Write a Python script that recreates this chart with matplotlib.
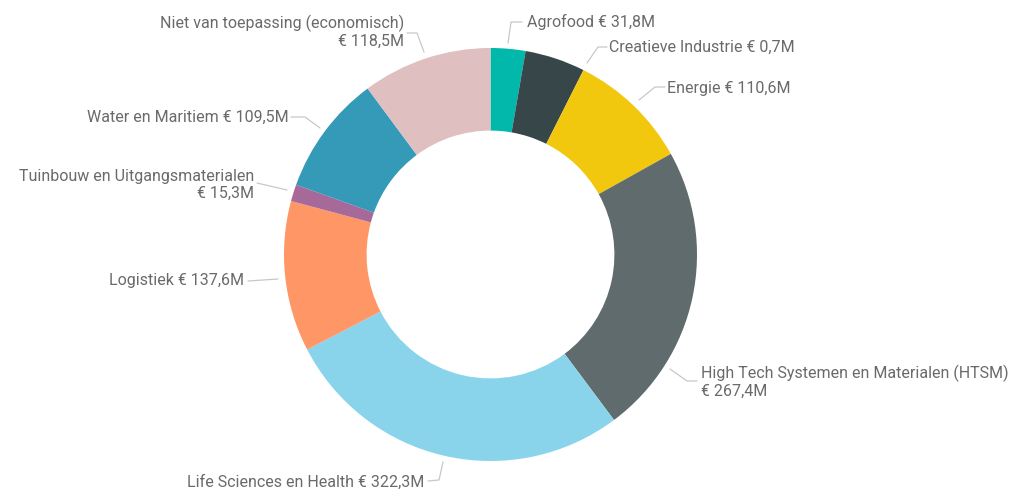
import matplotlib.pyplot as plt

# ── Data ───────────────────────────────────────────────────────
categories = [
    "Agrofood", "Creatieve Industrie", "Energie",
    "High Tech Systemen en Materialen (HTSM)", "Life Sciences en Health",
    "Logistiek", "Tuinbouw en Uitgangsmaterialen", "Water en Maritiem",
    "Niet van toepassing (economisch)",
]
# amounts shown in the labels (M euro)
label_amounts = [31.8, 0.7, 110.6, 267.4, 322.3, 137.6, 15.3, 109.5, 118.5]
# slice sizes as drawn (Creatieve slice is drawn much larger than its label)
slice_amounts = [31.8, 55.0, 110.6, 267.4, 322.3, 137.6, 15.3, 109.5, 118.5]
colors = ["#01B8AA", "#374649", "#F2C80F", "#5F6B6D", "#8AD4EB",
          "#FE9666", "#A66999", "#3599B8", "#DFBFBF"]

# ── Layout (pixels, y measured from top) ───────────────────────
W, H = 1013, 491
cx, cy, r = 490.5, 254.5, 206.5
hole = 0.40

# text anchor (x, y, ha, two_lines) and leader polyline per category
text_pos = [
    (527, 22, "left", False),
    (609, 47, "left", False),
    (667, 88, "left", False),
    (701, 382, "left", True),
    (424, 482, "right", False),
    (244, 281, "right", False),
    (254, 185, "right", True),
    (289, 117, "right", False),
    (404, 32, "right", True),
]
leaders = [
    [(508, 43), (511, 22), (522, 22)],
    [(587, 63), (598, 47), (607, 47)],
    [(639, 100), (655, 87), (665, 87)],
    [(670, 369), (687, 381), (697, 381)],
    [(443, 462), (439, 480), (428, 481)],
    [(278, 279), (248, 281)],
    [(287, 190), (257, 183)],
    [(320, 128), (305, 117), (291, 117)],
    [(424, 52), (417, 33), (407, 33)],
]


def fmt(v):
    return f"€ {v:.1f}M".replace(".", ",")


fig = plt.figure(figsize=(W / 100, H / 100), dpi=100)
ax = fig.add_axes([0, 0, 1, 1])

ax.pie(slice_amounts, colors=colors, startangle=90, counterclock=False,
       center=(cx, H - cy), radius=r,
       wedgeprops=dict(width=r * hole, linewidth=0))

font = ["Roboto", "DejaVu Sans"]
for cat, amt, (tx, ty, ha, two), pts in zip(categories, label_amounts,
                                             text_pos, leaders):
    xs = [p[0] for p in pts]
    ys = [H - p[1] for p in pts]
    ax.plot(xs, ys, color="#C8C8C8", lw=0.9, solid_capstyle="round")
    if two:
        txt = f"{cat}\n{fmt(amt)}"
    else:
        txt = f"{cat} {fmt(amt)}"
    ax.text(tx, H - ty, txt, ha=ha, va="center", fontsize=11.5,
            color="#6a6a6a", family=font, linespacing=1.15,
            multialignment=ha)

ax.set_xlim(0, W)
ax.set_ylim(0, H)
ax.set_aspect("equal")
ax.axis("off")

plt.savefig("out.png", dpi=100)
